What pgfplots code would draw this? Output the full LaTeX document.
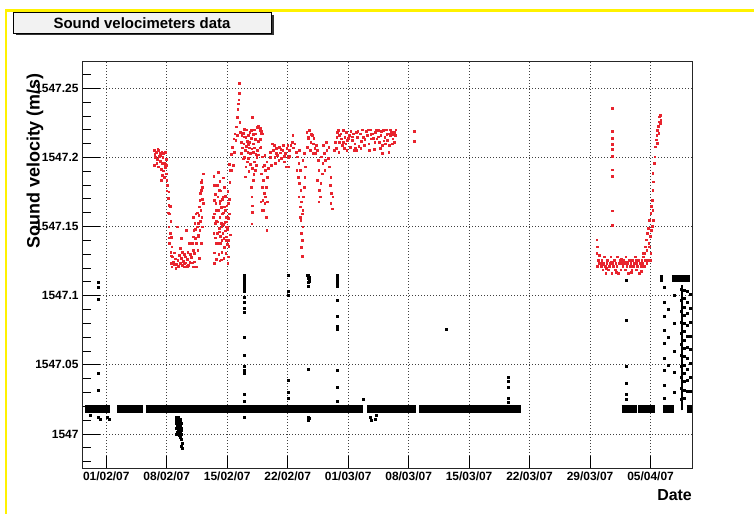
\documentclass[border=0pt]{standalone}
\usepackage{pgfplots}
\pgfplotsset{compat=1.18}
\usepackage{fontspec}
\setmainfont{Liberation Sans}
\definecolor{rootred}{RGB}{232,36,46}
\definecolor{boxfill}{RGB}{242,242,242}
\begin{document}
\begin{tikzpicture}
\useasboundingbox (0bp,0bp) rectangle (754bp,514bp);
\draw[yellow, line width=2.2bp] (6bp,0bp) -- (6bp,503.5bp) -- (754bp,503.5bp);
\fill[black!80] (15.5bp,478.5bp) rectangle (273.5bp,499bp);
\draw[black, line width=0.8bp, fill=boxfill] (13.3bp,481bp) rectangle (271bp,501.3bp);
\node[font=\bfseries\fontsize{15}{18}\selectfont, anchor=base, inner sep=0pt] at (142bp,485.7bp) {Sound velocimeters data};
\begin{axis}[
 at={(82bp,46bp)}, anchor=south west, scale only axis, width=610bp, height=407bp,
 xmin=-2.81, xmax=67.8, ymin=1546.9754, ymax=1547.2697,
 axis line style={black!85, line width=0.9bp},
 xtick={0,7,14,21,28,35,42,49,56,63},
 xticklabels={01/02/07,08/02/07,15/02/07,22/02/07,01/03/07,08/03/07,15/03/07,22/03/07,29/03/07,05/04/07},
 ytick={1547,1547.05,1547.1,1547.15,1547.2,1547.25},
 yticklabels={1547,1547.05,1547.1,1547.15,1547.2,1547.25},
 minor ytick={1546.98,1546.99,1547.01,1547.02,1547.03,1547.04,1547.06,1547.07,1547.08,1547.09,1547.11,1547.12,1547.13,1547.14,1547.16,1547.17,1547.18,1547.19,1547.21,1547.22,1547.23,1547.24,1547.26},
 xtick pos=bottom, ytick pos=left, tick align=inside,
 major tick length=18bp, minor tick length=9bp,
 xtick style={/pgfplots/major tick length=12bp},
 tick style={black, line width=0.8bp},
 grid=major,
 major grid style={black!75, line width=0.7bp, dash pattern=on 1bp off 2bp},
 xticklabel style={font=\bfseries\fontsize{12}{14}\selectfont},
 yticklabel style={font=\bfseries\fontsize{12}{14}\selectfont},
 xlabel={Date}, ylabel={Sound velocity (m/s)},
 xlabel style={font=\bfseries\fontsize{16}{19}\selectfont, at={(axis description cs:1,-0.052)}, anchor=north east, inner sep=0pt},
 ylabel style={font=\bfseries\fontsize{18}{21}\selectfont, at={(axis description cs:-0.077,0.9705)}, anchor=east, inner sep=0pt},
 clip=true,
]
% black band segments
\addplot[black, line width=8bp] coordinates {(-2.45,1547.0179) (0.4,1547.0179)};
\addplot[black, line width=8bp] coordinates {(1.27,1547.0179) (4.28,1547.0179)};
\addplot[black, line width=8bp] coordinates {(4.56,1547.0179) (29.75,1547.0179)};
\addplot[black, line width=8bp] coordinates {(30.21,1547.0179) (35.85,1547.0179)};
\addplot[black, line width=8bp] coordinates {(36.23,1547.0179) (47.96,1547.0179)};
\addplot[black, line width=8bp] coordinates {(59.65,1547.0179) (61.39,1547.0179)};
\addplot[black, line width=8bp] coordinates {(61.57,1547.0179) (63.5,1547.0179)};
\addplot[black, line width=8bp] coordinates {(64.47,1547.0179) (65.71,1547.0179)};
\addplot[black, line width=8bp] coordinates {(67.18,1547.0179) (67.75,1547.0179)};
\addplot[black, line width=7bp] coordinates {(64.08,1547.1123) (64.47,1547.1123)};
\addplot[black, line width=7bp] coordinates {(65.47,1547.1123) (67.56,1547.1123)};
\addplot[black, line width=2bp] coordinates {(66.6,1547.017) (66.6,1547.108)};
% black scattered points
\addplot[only marks, mark=square*, mark size=1bp, black] coordinates {
(-0.93,1547.110)(-0.93,1547.106)(-0.93,1547.0975)(-0.93,1547.044)(-0.93,1547.032)
(-0.9,1547.0125)(-0.7,1547.0105)(0.1,1547.012)(0.3,1547.0105)(-1.9,1547.0135)
(8.1,1547.012)(8.1,1547.008)(8.15,1547.004)(8.2,1547.010)(8.2,1547.001)(8.25,1547.006)(8.3,1547.012)(8.3,1547.003)(8.35,1547.0)(8.4,1547.008)(8.4,1546.999)(8.45,1547.004)(8.5,1547.011)(8.5,1547.0)(8.55,1547.006)(8.6,1546.998)(8.6,1547.009)(8.65,1547.003)(8.7,1546.996)(8.7,1547.008)(8.75,1546.993)(8.78,1546.990)(8.72,1546.9915)(8.15,1547.0)(8.05,1547.01)(8.38,1547.0035)(8.62,1547.0045)(8.48,1547.0065)(8.58,1547.0015)(8.68,1547.0)(8.28,1547.0085)
(15.94,1547.115)(15.94,1547.113)(15.94,1547.111)(15.94,1547.109)(15.94,1547.107)(15.94,1547.105)(15.94,1547.103)(15.94,1547.099)(15.94,1547.095)(15.94,1547.091)(15.94,1547.088)(15.94,1547.070)(15.94,1547.057)(15.94,1547.049)(15.94,1547.046)(15.94,1547.044)(15.94,1547.029)(15.94,1547.024)(15.94,1547.0125)
(21.06,1547.115)(21.06,1547.103)(21.06,1547.100)(21.06,1547.039)(21.06,1547.030)(21.06,1547.026)
(23.3,1547.115)(23.35,1547.113)(23.4,1547.1145)(23.45,1547.112)(23.5,1547.1135)(23.35,1547.110)(23.45,1547.1105)(23.4,1547.107)(23.4,1547.047)(23.4,1547.0125)(23.35,1547.010)(23.5,1547.0115)
(26.72,1547.115)(26.72,1547.113)(26.72,1547.111)(26.72,1547.109)(26.72,1547.107)(26.72,1547.097)(26.72,1547.085)(26.72,1547.078)(26.72,1547.076)(26.72,1547.046)(26.72,1547.034)(26.72,1547.024)
(29.75,1547.025)(30.5,1547.0125)(30.7,1547.010)(31.1,1547.011)(31.3,1547.0135)(39.4,1547.076)
(46.5,1547.041)(46.5,1547.038)(46.5,1547.034)(46.5,1547.026)(46.5,1547.023)
(60.15,1547.111)(60.15,1547.082)(60.15,1547.049)(60.15,1547.037)(60.15,1547.029)(60.15,1547.025)
(64.55,1547.106)(64.55,1547.095)(64.55,1547.085)(64.55,1547.075)(64.55,1547.066)(64.55,1547.055)(64.55,1547.046)(64.55,1547.035)(64.55,1547.026)
(65.0,1547.09)(65.0,1547.07)(65.0,1547.05)
(65.7,1547.10)(65.7,1547.08)(65.7,1547.06)(65.7,1547.045)(65.7,1547.03)
(66.5,1547.105)(66.5,1547.097)(66.5,1547.089)(66.5,1547.081)(66.5,1547.073)(66.5,1547.065)(66.5,1547.057)(66.5,1547.049)(66.5,1547.041)(66.5,1547.033)(66.5,1547.025)
(66.9,1547.104)(66.9,1547.098)(66.9,1547.092)(66.9,1547.086)(66.9,1547.080)(66.9,1547.074)(66.9,1547.068)(66.9,1547.062)(66.9,1547.056)(66.9,1547.050)(66.9,1547.044)(66.9,1547.038)(66.9,1547.032)(66.9,1547.026)
(67.25,1547.103)(67.25,1547.095)(67.25,1547.087)(67.25,1547.079)(67.25,1547.071)(67.25,1547.063)(67.25,1547.055)(67.25,1547.047)(67.25,1547.039)(67.25,1547.031)
(67.56,1547.101)(67.56,1547.091)(67.56,1547.081)(67.56,1547.071)(67.56,1547.061)(67.56,1547.051)(67.56,1547.041)(67.56,1547.031)
};
% red points
\addplot[only marks, mark=square*, mark size=0.85bp, rootred] coordinates {
(5.52,1547.2052)(5.75,1547.2040)(6.02,1547.2052)(6.21,1547.2028)(6.40,1547.2040)(6.59,1547.2028)(6.78,1547.2040)(5.63,1547.1999)(5.90,1547.1985)(6.13,1547.2009)(6.28,1547.1975)(6.52,1547.1999)(6.67,1547.1960)(6.90,1547.1989)(5.52,1547.1944)(5.82,1547.1956)(6.05,1547.1932)(6.36,1547.1917)(6.59,1547.1903)(6.78,1547.1927)(6.98,1547.1941)(6.44,1547.1871)(6.67,1547.1859)(6.36,1547.1835)(6.90,1547.1883)(6.98,1547.1835)
(5.6,1547.2025)(5.95,1547.2060)(6.25,1547.2015)(6.5,1547.1960)(6.85,1547.1950)(7.0,1547.1760)(7.15,1547.1600)(7.32,1547.1420)(7.48,1547.1290)
(7.09,1547.1799)(7.21,1547.1751)(7.13,1547.1703)(7.21,1547.1655)(7.36,1547.1647)(7.28,1547.1594)(7.44,1547.1541)(7.21,1547.1498)(7.36,1547.1450)(7.52,1547.1421)(7.28,1547.1378)(7.59,1547.1354)(7.44,1547.1317)(7.67,1547.1281)(7.52,1547.1233)(7.75,1547.1245)(7.59,1547.1209)
(7.90,1547.1310)(7.98,1547.1267)(8.13,1547.1228)(8.28,1547.1257)(8.44,1547.1291)(8.59,1547.1233)(8.75,1547.1219)(8.90,1547.1248)(9.05,1547.1233)(9.21,1547.1238)(9.36,1547.1262)(9.52,1547.1223)(9.67,1547.1243)(9.82,1547.1276)(9.94,1547.1238)(10.05,1547.1209)(10.17,1547.1245)(8.52,1547.1341)(8.82,1547.1317)(9.13,1547.1281)(8.21,1547.1498)(8.71,1547.1414)(9.28,1547.1474)(9.59,1547.1378)(9.44,1547.1317)(8.05,1547.1197)(8.98,1547.1209)
(7.8,1547.1230)(8.35,1547.1215)(8.65,1547.1270)(9.0,1547.1300)(9.4,1547.1215)(9.75,1547.1300)(10.1,1547.1330)
(9.98,1547.1378)(10.05,1547.1426)(10.13,1547.1474)(10.25,1547.1522)(10.09,1547.1570)(10.36,1547.1594)(10.28,1547.1414)(10.44,1547.1378)(10.59,1547.1329)(10.67,1547.1522)(10.75,1547.1643)(10.82,1547.1691)(10.90,1547.1739)(11.02,1547.1763)(10.94,1547.1618)(11.05,1547.1570)(11.13,1547.1498)(10.67,1547.1426)(10.75,1547.1269)(10.98,1547.1378)(11.21,1547.1883)(11.05,1547.1835)(10.82,1547.1474)(10.52,1547.1498)(11.21,1547.1667)(11.13,1547.1787)(10.44,1547.1209)(10.21,1547.1305)
(10.3,1547.1480)(10.5,1547.1600)(10.7,1547.1580)(10.9,1547.1540)(11.1,1547.1700)(10.6,1547.1440)(11.0,1547.1820)
(12.44,1547.1864)(12.52,1547.1799)(12.59,1547.1734)(12.67,1547.1671)(12.52,1547.1594)(12.59,1547.1522)(12.44,1547.1450)(12.67,1547.1378)(12.52,1547.1310)(12.75,1547.1262)(12.98,1547.1895)(13.13,1547.1830)(13.05,1547.1763)(13.21,1547.1686)(13.28,1547.1638)(13.13,1547.1570)(13.36,1547.1503)(13.21,1547.1431)(12.98,1547.1378)(13.36,1547.1317)(13.13,1547.1252)(13.52,1547.1854)(13.67,1547.1787)(13.52,1547.1715)(13.67,1547.1643)(13.82,1547.1570)(13.52,1547.1517)(13.75,1547.1469)(13.90,1547.1426)(13.98,1547.1373)(13.82,1547.1305)(14.05,1547.1233)(14.13,1547.1281)(13.98,1547.1498)(14.21,1547.1594)(14.13,1547.1667)(14.05,1547.1758)(14.28,1547.1823)(14.36,1547.1907)(14.21,1547.1951)(14.44,1547.2023)(13.44,1547.1594)(13.59,1547.1414)(12.90,1547.1534)(12.82,1547.1450)(12.75,1547.1618)(13.75,1547.1618)(13.28,1547.1522)(13.36,1547.1402)(13.05,1547.1462)(13.90,1547.1534)(13.98,1547.1570)(12.52,1547.1233)(13.59,1547.1269)(14.13,1547.1402)(13.82,1547.1498)(13.13,1547.1667)(12.90,1547.1715)
(12.40,1547.1570)(12.48,1547.1690)(12.62,1547.1420)(12.70,1547.1540)(12.85,1547.1800)(12.95,1547.1620)(13.00,1547.1300)(13.10,1547.1490)(13.18,1547.1380)(13.25,1547.1760)(13.32,1547.1260)(13.40,1547.1700)(13.47,1547.1450)(13.55,1547.1600)(13.62,1547.1350)(13.70,1547.1530)(13.78,1547.1720)(13.85,1547.1400)(13.93,1547.1650)(14.00,1547.1480)(14.08,1547.1560)(14.17,1547.1360)(14.25,1547.1700)(14.32,1547.1440)
(14.59,1547.2076)(14.75,1547.2136)(14.86,1547.2172)(14.98,1547.2124)(15.05,1547.2221)(15.13,1547.2293)(15.21,1547.2346)(15.28,1547.2389)(15.32,1547.2418)(15.36,1547.2466)(15.36,1547.2534)(15.44,1547.2257)(14.82,1547.2040)(14.67,1547.1944)(14.52,1547.1907)(15.13,1547.2160)
(15.52,1547.2184)(15.67,1547.2160)(15.82,1547.2177)(15.98,1547.2206)(16.13,1547.2148)(16.28,1547.2119)(16.44,1547.2095)(16.59,1547.2182)(16.75,1547.2196)(16.90,1547.2293)(16.98,1547.2168)(17.13,1547.2201)(17.28,1547.2172)(17.44,1547.2216)(17.59,1547.2225)(17.75,1547.2196)(17.90,1547.2192)(18.05,1547.2172)(15.59,1547.2112)(15.75,1547.2071)(15.90,1547.2100)(16.05,1547.2052)(16.21,1547.2081)(16.36,1547.2040)(16.52,1547.2071)(16.67,1547.2028)(16.82,1547.2062)(16.98,1547.2040)(17.13,1547.2071)(17.28,1547.2023)(17.44,1547.2052)(17.59,1547.2119)(17.75,1547.2071)(15.98,1547.1999)(16.28,1547.1968)(16.13,1547.1932)(16.44,1547.1992)(16.67,1547.1951)(16.90,1547.1920)(17.13,1547.1968)(17.36,1547.1944)(17.21,1547.1907)(16.82,1547.1715)(16.90,1547.1606)(16.75,1547.1787)(16.98,1547.1835)
(15.6,1547.2030)(15.85,1547.1990)(16.0,1547.2150)(16.2,1547.2200)(16.4,1547.2160)(16.6,1547.2110)(16.8,1547.2140)(17.0,1547.2100)(17.2,1547.2130)(17.4,1547.2000)(17.6,1547.2020)(17.8,1547.2130)(16.1,1547.1860)(16.5,1547.1900)(17.05,1547.1880)(16.85,1547.1520)(16.88,1547.1650)
(17.79,1547.2209)(17.94,1547.2172)(17.87,1547.2076)(18.02,1547.2004)(18.1,1547.1932)(17.94,1547.1883)(18.17,1547.1835)(18.02,1547.1787)(18.25,1547.1739)(18.1,1547.1691)(18.33,1547.1667)(18.17,1547.1618)(18.48,1547.1570)(18.56,1547.1474)(18.4,1547.1908)(18.56,1547.1968)(18.33,1547.2016)(18.64,1547.1859)(18.48,1547.1787)(18.72,1547.1920)(18.25,1547.1944)(18.40,1547.1715)(18.64,1547.1679)(17.87,1547.1679)(18.02,1547.1618)
(18.95,1547.2040)(19.18,1547.2100)(19.33,1547.2052)(19.49,1547.1999)(19.64,1547.2064)(19.80,1547.2016)(19.95,1547.1980)(20.10,1547.2033)(20.26,1547.1992)(20.41,1547.2052)(20.57,1547.1968)(20.72,1547.2028)(20.88,1547.2064)(21.03,1547.1999)(21.19,1547.2052)(19.10,1547.1944)(19.56,1547.1956)(20.03,1547.2076)(20.49,1547.2088)(20.80,1547.1932)(21.34,1547.2088)(21.49,1547.2112)(21.65,1547.2071)(21.80,1547.2100)(21.96,1547.2040)(21.57,1547.2160)(21.11,1547.1932)
(19.0,1547.2000)(19.4,1547.2090)(19.7,1547.2030)(20.2,1547.2060)(20.6,1547.2010)(21.0,1547.2090)(21.2,1547.2010)
(22.11,1547.2004)(22.27,1547.1956)(22.42,1547.1907)(22.19,1547.1859)(22.34,1547.1811)(22.5,1547.1763)(22.27,1547.1715)(22.57,1547.1679)(22.42,1547.1643)(22.65,1547.1594)(22.5,1547.1546)(22.73,1547.1498)(22.57,1547.1450)(22.65,1547.1402)(22.57,1547.1353)(22.65,1547.1286)(22.81,1547.1715)(22.88,1547.1787)(22.96,1547.1859)(23.04,1547.1932)(22.03,1547.1907)(22.73,1547.1980)(22.34,1547.2052)(22.88,1547.2028)(22.73,1547.1618)(22.42,1547.1570)
(23.19,1547.2184)(23.35,1547.2148)(23.5,1547.2196)(23.65,1547.2112)(23.81,1547.2160)(23.96,1547.2100)(24.12,1547.2064)(24.27,1547.2088)(23.27,1547.2076)(23.58,1547.2052)(23.89,1547.2028)(24.19,1547.2028)
(23.4,1547.2140)(23.7,1547.2170)(24.0,1547.2140)
(24.43,1547.2052)(24.5,1547.1980)(24.58,1547.1907)(24.43,1547.1835)(24.66,1547.1763)(24.58,1547.1679)(24.73,1547.1715)(24.89,1547.2004)(25.04,1547.1956)(25.2,1547.2028)(25.35,1547.1980)(24.97,1547.1883)(25.27,1547.1907)(25.5,1547.2052)(25.66,1547.1992)(25.81,1547.1932)(25.97,1547.1859)(25.89,1547.1799)(26.05,1547.1739)(25.97,1547.1667)(26.12,1547.1630)(26.2,1547.1715)(25.74,1547.2076)(25.12,1547.2088)(25.43,1547.2112)(24.81,1547.1811)
(26.35,1547.2052)(26.51,1547.2112)(26.66,1547.2148)(26.82,1547.2196)(26.97,1547.2112)(27.13,1547.2172)(27.28,1547.2088)(27.43,1547.2196)(27.59,1547.2148)(27.74,1547.2184)(27.9,1547.2124)(26.59,1547.2064)(26.9,1547.2040)(27.2,1547.2136)(27.51,1547.2064)(27.82,1547.2052)
(26.7,1547.2180)(27.0,1547.2160)(27.4,1547.2110)(27.7,1547.2100)(28.0,1547.2140)
(28.13,1547.2160)(28.28,1547.2192)(28.44,1547.2124)(28.59,1547.2172)(28.75,1547.2100)(28.9,1547.2184)(29.06,1547.2148)(29.21,1547.2081)(29.36,1547.2172)(29.52,1547.2119)(29.75,1547.2148)(30.06,1547.2192)(30.21,1547.2160)(30.37,1547.2100)(30.52,1547.2201)(30.68,1547.2136)(30.83,1547.2172)(30.98,1547.2057)(31.14,1547.2184)(31.29,1547.2136)(31.45,1547.2196)(31.6,1547.2112)(31.76,1547.2160)(31.91,1547.2088)(32.07,1547.2196)(32.22,1547.2148)(32.37,1547.2201)(32.53,1547.2124)(32.68,1547.2040)(32.84,1547.2160)(32.99,1547.2184)(33.15,1547.2136)(33.3,1547.2184)(33.45,1547.2160)(30.44,1547.2052)(29.83,1547.2088)(28.98,1547.2052)(31.68,1547.2064)(32.3,1547.2100)(32.76,1547.2088)(31.06,1547.2112)(31.91,1547.2028)(32.6,1547.2172)(33.07,1547.2100)(28.21,1547.2076)(28.67,1547.2052)(29.44,1547.2064)
(28.5,1547.2150)(28.8,1547.2070)(29.1,1547.2190)(29.6,1547.2200)(29.9,1547.2130)(30.3,1547.2200)(30.6,1547.2170)(30.9,1547.2140)(31.2,1547.2200)(31.5,1547.2150)(31.8,1547.2190)(32.1,1547.2120)(32.45,1547.2170)(32.9,1547.2200)(33.2,1547.2170)(33.5,1547.2200)(33.35,1547.2110)
(35.65,1547.2192)(35.65,1547.2119)
(56.76,1547.1404)(56.84,1547.1355)(56.76,1547.1307)(56.91,1547.1259)(56.99,1547.1235)(56.84,1547.1211)(57.07,1547.1295)
(57.15,1547.1235)(57.25,1547.1211)(57.34,1547.1259)(57.45,1547.1187)(57.53,1547.1235)(57.63,1547.1283)(57.73,1547.1211)(57.82,1547.1163)(57.92,1547.1235)(58.02,1547.1259)(58.11,1547.1187)(58.2,1547.1211)(58.3,1547.1235)(58.4,1547.1283)(58.5,1547.1163)(58.6,1547.1235)(58.69,1547.1211)(58.78,1547.1259)(58.88,1547.1187)(58.98,1547.1235)(59.08,1547.1211)(59.17,1547.1283)(59.27,1547.1163)(59.37,1547.1235)(59.46,1547.1259)(59.56,1547.1187)(59.66,1547.1235)(59.76,1547.1211)(59.85,1547.1259)(59.95,1547.1235)(60.04,1547.1187)(60.14,1547.1283)(60.24,1547.1211)(60.33,1547.1235)(60.43,1547.1163)(60.52,1547.1259)(60.62,1547.1211)(60.72,1547.1235)(60.81,1547.1187)(60.91,1547.1259)(61.01,1547.1211)(61.1,1547.1235)(61.2,1547.1283)(61.3,1547.1187)(61.39,1547.1235)(61.49,1547.1211)(61.59,1547.1259)(61.68,1547.1163)(61.78,1547.1235)(61.88,1547.1211)(61.97,1547.1259)(62.07,1547.1235)(62.17,1547.1283)(62.25,1547.1211)
(57.4,1547.1225)(57.9,1547.1200)(58.45,1547.1245)(59.0,1547.1170)(59.6,1547.1265)(60.2,1547.1245)(60.75,1547.1170)(61.3,1547.1255)(61.85,1547.1175)(62.1,1547.1305)
(58.58,1547.2357)(58.58,1547.2189)(58.58,1547.2141)(58.58,1547.2093)(58.58,1547.2057)(58.58,1547.2008)(58.58,1547.1912)(58.58,1547.1864)(58.58,1547.1614)(58.58,1547.1508)
(62.24,1547.1307)(62.36,1547.1355)(62.47,1547.1404)(62.55,1547.1331)(62.63,1547.1452)(62.75,1547.1488)(62.78,1547.1380)(62.86,1547.1548)(62.94,1547.1428)(63.02,1547.1596)(63.09,1547.1645)(63.17,1547.1693)(63.25,1547.1765)(63.32,1547.1825)(63.25,1547.1886)(63.4,1547.1958)(63.48,1547.2006)(63.56,1547.2078)(63.63,1547.2127)(63.71,1547.2163)(63.79,1547.2199)(63.86,1547.2223)(63.94,1547.2259)(64.02,1547.2295)(64.1,1547.2247)(64.17,1547.2271)(63.94,1547.2175)(63.79,1547.2103)(62.86,1547.1355)(63.02,1547.1307)(62.71,1547.1259)(63.17,1547.1500)(63.09,1547.1476)(63.32,1547.1548)(63.25,1547.1620)(62.94,1547.1259)(62.55,1547.1235)(62.4,1547.1259)(62.09,1547.1223)(61.97,1547.1175)(64.1,1547.2307)
};
\end{axis}
\end{tikzpicture}
\end{document}
